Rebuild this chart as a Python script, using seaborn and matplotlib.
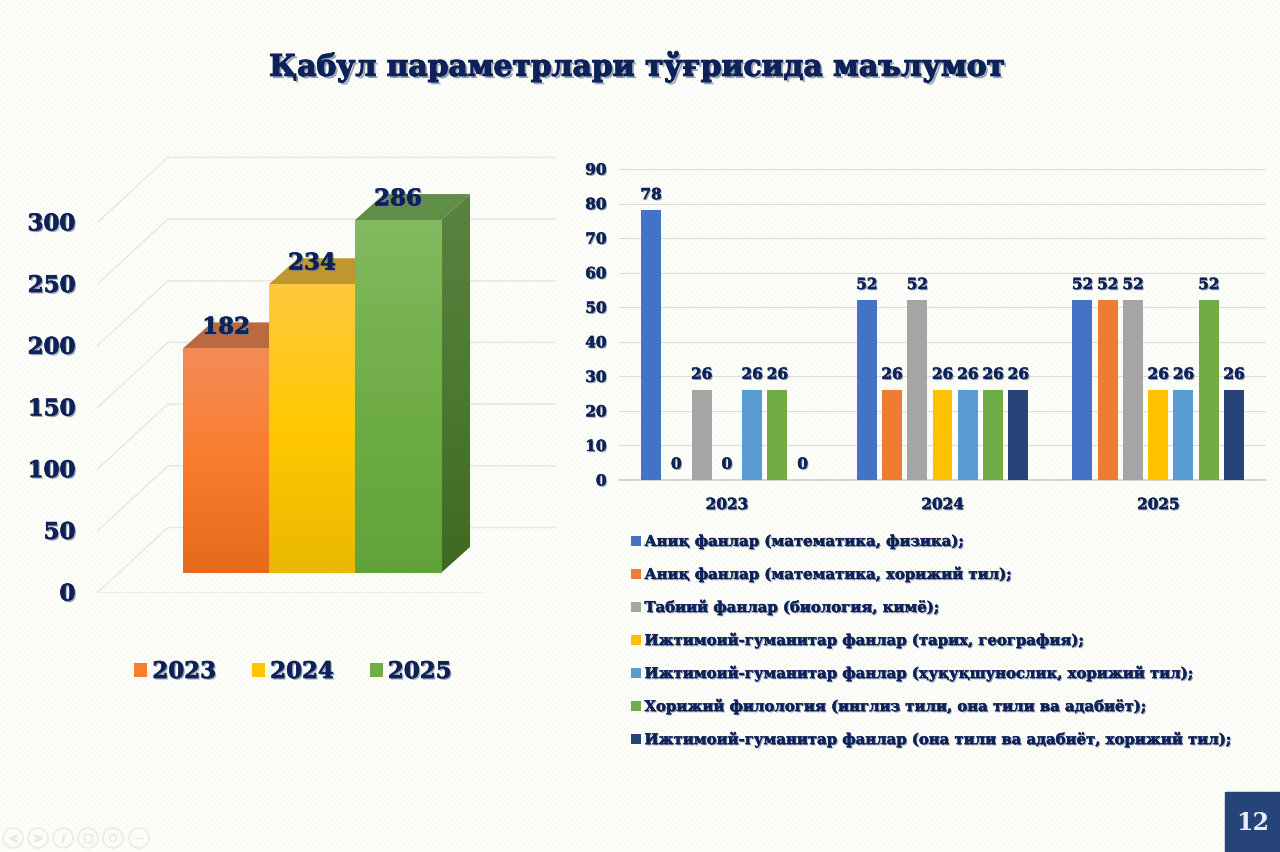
import numpy as np
import pandas as pd
import matplotlib
matplotlib.use("Agg")
import matplotlib.pyplot as plt
import matplotlib.patheffects as pe
from matplotlib.colors import LinearSegmentedColormap
from matplotlib.patches import Polygon, Rectangle, Circle
from matplotlib.transforms import ScaledTranslation
import seaborn as sns

# Data
years = ["2023", "2024", "2025"]
totals = [182, 234, 286]
left_ticks = [0, 50, 100, 150, 200, 250, 300]
right_ticks = [0, 10, 20, 30, 40, 50, 60, 70, 80, 90]

directions = [
    "Аниқ фанлар (математика, физика);",
    "Аниқ фанлар (математика, хорижий тил);",
    "Табиий фанлар (биология, кимё);",
    "Ижтимоий-гуманитар фанлар (тарих, география);",
    "Ижтимоий-гуманитар фанлар (ҳуқуқшунослик, хорижий тил);",
    "Хорижий филология (инглиз тили, она тили ва адабиёт);",
    "Ижтимоий-гуманитар фанлар (она тили ва адабиёт, хорижий тил);",
]
values_2023 = [78, 0, 26, 0, 26, 26, 0]
values_2024 = [52, 26, 52, 26, 26, 26, 26]
values_2025 = [52, 52, 52, 26, 26, 52, 26]

title = "Қабул параметрлари тўғрисида маълумот"
page_number = "12"

# Colours
navy = "#0E2259"
direction_colors = ["#4472C4", "#ED7D31", "#A5A5A5", "#FFC000", "#5B9BD5", "#70AD47", "#264478"]
year_colors = ["#F57F2C", "#FFC400", "#70AD47"]
front_stops = [
    ["#F48C58", "#F97D2C", "#E56A1B"],
    ["#FFC93F", "#FFC800", "#E9B800"],
    ["#82BA60", "#70AD47", "#62A339"],
]
side_stops = ["#5A8243", "#4C7A30", "#3E6A20"]
top_colors = ["#B96A3F", "#BE972E", "#5F8F47"]

W, H = 1280, 853

sns.set_theme(style="white")
plt.rcParams["font.family"] = ["DejaVu Serif"]
plt.rcParams["font.weight"] = "bold"


def heavy(lw=0.5, off=1.1):
    return [pe.SimplePatchShadow(offset=(off, -off), shadow_rgbFace="#6F7F98", alpha=0.7),
            pe.Stroke(linewidth=lw, foreground=navy), pe.Normal()]


def box(x0, y0, x1, y1):
    return [x0 / W, 1 - y1 / H, (x1 - x0) / W, (y1 - y0) / H]


fig = plt.figure(figsize=(12.8, 8.53), dpi=100, facecolor="#FCFCF7")

# -----------------------------
# Background, page number, slide controls
# -----------------------------
bg = fig.add_axes([0, 0, 1, 1], zorder=-1)
yy, xx = np.mgrid[0:H, 0:W]
texture = ((xx // 3 + yy // 3) % 2).astype(float)
bg.imshow(texture, cmap=LinearSegmentedColormap.from_list("bg", ["#FDFDF9", "#FBFBF6"]),
          extent=(0, W, H, 0), aspect="auto", interpolation="nearest")
bg.set_xlim(0, W)
bg.set_ylim(H, 0)
bg.axis("off")

bg.add_patch(Rectangle((1225, 793), 55, 60, color="#264478"))
bg.text(1253, 823, page_number, color="#E8EDF5", fontsize=17, ha="center", va="center")

icon_marks = ["$<$", "$>$", "$/$", "s", "o", "_"]
for cx, mark in zip([13, 38, 63, 88, 113, 139], icon_marks):
    bg.add_patch(Circle((cx, 839), 10, fill=False, ec="#EBEBE7", lw=1.2))
    bg.scatter([cx], [839], marker=mark, s=26, facecolors="none" if mark in "so" else "#E8E8E4",
               edgecolors="#E8E8E4", linewidths=1)

fig.text(637 / W, 1 - 67 / H, title, color=navy, fontsize=21.4, ha="center", va="center",
         path_effects=heavy(0.9, 1.7))

# -----------------------------
# Left chart: total by year, with drawn depth
# -----------------------------
ax1 = fig.add_axes(box(97, 157, 556, 594))
df_total = pd.DataFrame({"year": years, "total": totals})
sns.barplot(data=df_total, x="year", y="total", hue="year", palette=year_colors, dodge=False,
            width=1, saturation=1, legend=True, linewidth=0, ax=ax1, zorder=3)

depth_x, depth_y = 29 / 86, 26 / 1.234
wall_x, wall_y = 71 / 86, 65.5 / 1.234
floor_y = -20 / 1.234
x_left, x_right = -1.5, 3.837
y_top = 437 / 1.234 + floor_y

grid_color = "#E7E7E3"
for v in left_ticks:
    y0 = v + floor_y
    ax1.plot([x_left, x_left + wall_x, x_right], [y0, y0 + wall_y, y0 + wall_y],
             color=grid_color, lw=1.1, zorder=1)
ax1.plot([x_left, x_left + 386 / 86], [floor_y, floor_y], color=grid_color, lw=1.1, zorder=1)

for i, container in enumerate(ax1.containers):
    bar = container[0]
    x0, w, h = bar.get_x(), bar.get_width(), bar.get_height()
    img = np.linspace(0, 1, 256).reshape(-1, 1)

    front = ax1.imshow(img, cmap=LinearSegmentedColormap.from_list("f", front_stops[i]),
                       extent=(x0, x0 + w, 0, h), origin="upper", aspect="auto", zorder=3.1)
    front.set_clip_path(bar)

    top = Polygon([[x0, h], [x0 + w, h], [x0 + w + depth_x, h + depth_y], [x0 + depth_x, h + depth_y]],
                  closed=True, fc=top_colors[i], ec="none", zorder=2)
    ax1.add_patch(top)

    side = Polygon([[x0 + w, 0], [x0 + w + depth_x, depth_y], [x0 + w + depth_x, h + depth_y], [x0 + w, h]],
                   closed=True, fc="none", ec="none", zorder=2)
    ax1.add_patch(side)
    side_img = ax1.imshow(img, cmap=LinearSegmentedColormap.from_list("s", side_stops),
                          extent=(x0 + w, x0 + w + depth_x, 0, h + depth_y), origin="upper",
                          aspect="auto", zorder=2)
    side_img.set_clip_path(side)

    labels = ax1.bar_label(container, padding=7, fontsize=16.5, color=navy, zorder=5)
    for t in labels:
        t.set_path_effects(heavy())
        t.set_zorder(5)

ax1.set_xlim(x_left, x_right)
ax1.set_ylim(floor_y, y_top)
ax1.set_xticks([])
ax1.set_yticks(left_ticks)
ax1.set_xlabel("")
ax1.set_ylabel("")
ax1.patch.set_visible(False)
sns.despine(ax=ax1, left=True, bottom=True)
ax1.tick_params(axis="y", length=0, pad=15.5, labelsize=16.5, labelcolor=navy)
down = ScaledTranslation(0, -0.19, fig.dpi_scale_trans)
for t in ax1.get_yticklabels():
    t.set_transform(t.get_transform() + down)
    t.set_path_effects(heavy())

leg1 = ax1.legend(loc="upper left", bbox_to_anchor=(134 / W, 1 - 662 / H), bbox_transform=fig.transFigure,
                  ncol=3, frameon=False, fontsize=16.5, handlelength=0.58, handleheight=0.58,
                  handletextpad=0.22, columnspacing=1.56, borderpad=0, borderaxespad=0)
for t in leg1.get_texts():
    t.set_color(navy)
    t.set_path_effects(heavy())

# -----------------------------
# Right chart: quota by direction
# -----------------------------
ax2 = fig.add_axes(box(619, 170, 1266, 481))
df_dir = pd.DataFrame({
    "direction": directions * 3,
    "year": [y for y in years for _ in directions],
    "places": values_2023 + values_2024 + values_2025,
})
sns.barplot(data=df_dir, x="year", y="places", hue="direction", hue_order=directions,
            palette=direction_colors, width=0.82, gap=0.21, saturation=1, linewidth=0, ax=ax2, zorder=3)

for container in ax2.containers:
    labels = ax2.bar_label(container, padding=6, fontsize=11, color=navy)
    for t in labels:
        t.set_path_effects(heavy(0.35, 0.9))

ax2.set_ylim(0, 90)
ax2.set_xlim(-0.5, 2.5)
ax2.set_yticks(right_ticks)
ax2.set_xlabel("")
ax2.set_ylabel("")
ax2.patch.set_visible(False)
ax2.grid(axis="y", color="#DDDDDD", lw=0.8, zorder=0)
ax2.set_axisbelow(True)
sns.despine(ax=ax2, left=True)
ax2.spines["bottom"].set_color("#D0D0D0")
ax2.tick_params(axis="y", length=0, pad=9, labelsize=11, labelcolor=navy)
ax2.tick_params(axis="x", length=0, pad=13, labelsize=11, labelcolor=navy)
for t in ax2.get_xticklabels() + ax2.get_yticklabels():
    t.set_path_effects(heavy(0.35, 0.9))

leg2 = ax2.legend(loc="upper left", bbox_to_anchor=(631 / W, 1 - 535 / H), bbox_transform=fig.transFigure,
                  frameon=False, fontsize=10.7, handlelength=0.66, handleheight=0.66,
                  handletextpad=0.25, labelspacing=1.18, borderpad=0, borderaxespad=0)
for t in leg2.get_texts():
    t.set_color(navy)
    t.set_path_effects(heavy(0.35, 0.9))

fig.savefig("out.png", dpi=100, facecolor=fig.get_facecolor())
